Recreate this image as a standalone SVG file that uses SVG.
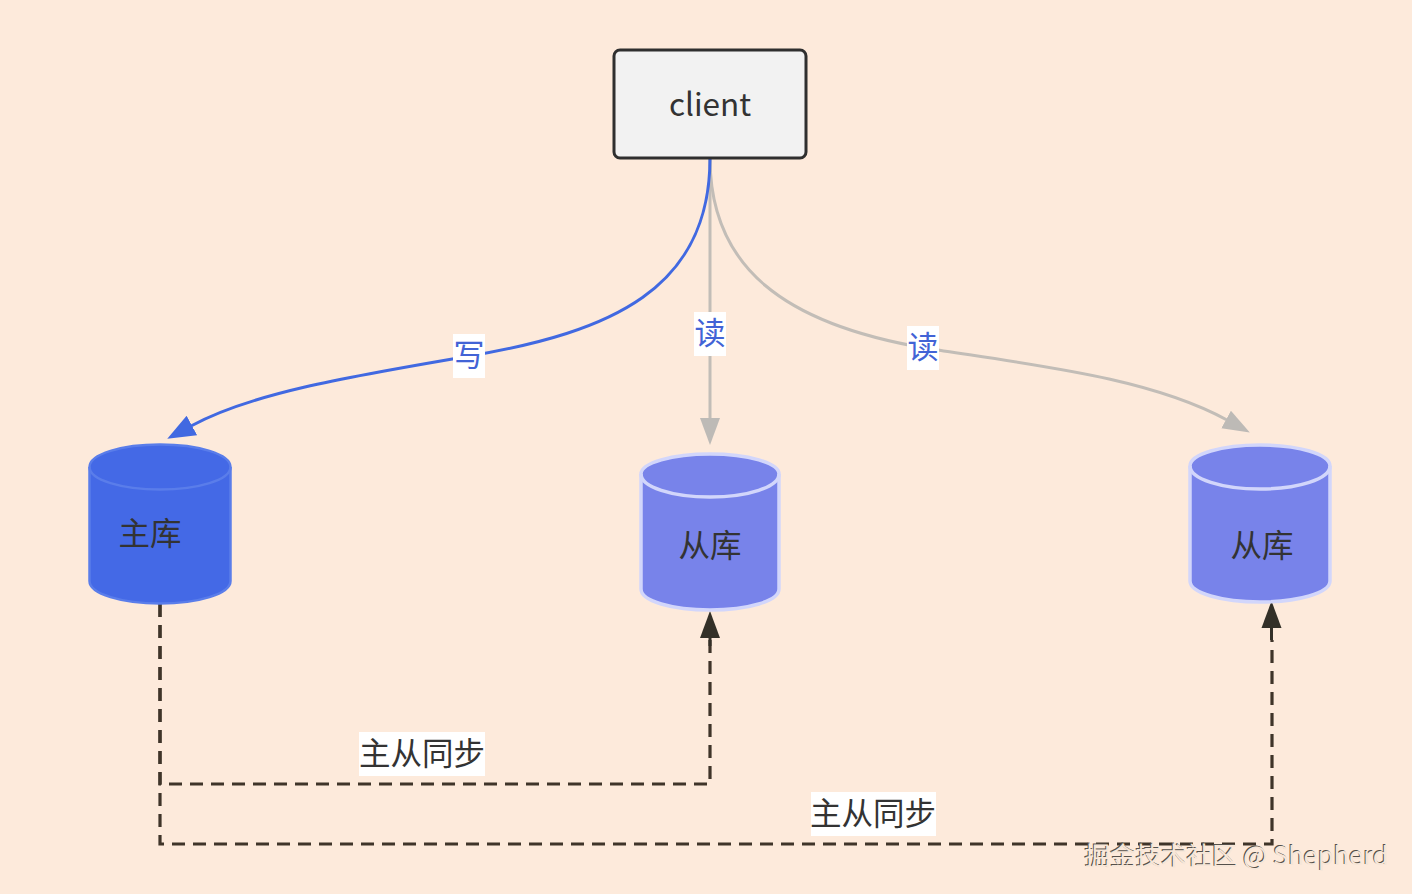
<svg xmlns="http://www.w3.org/2000/svg" width="1412" height="894" viewBox="0 0 1412 894">
<style>
text{font-family:"Noto Sans CJK SC","Noto Sans",sans-serif;text-anchor:middle}
.lbl{font-size:31.5px;fill:#333}
.el{font-size:31px;fill:#4263d6}
.bg{fill:#fff}
.dash{fill:none;stroke:#3f3429;stroke-width:3.2;stroke-dasharray:13 8}
.blue{fill:none;stroke:#4169e1;stroke-width:3}
.grey{fill:none;stroke:#c2bdb7;stroke-width:3}
.m{fill:#4469e6;stroke:#5a7dea;stroke-width:2.500}
.s{fill:#7883ea;stroke:#d2d6fb;stroke-width:3.500}
.wm{font-size:25.500px}
</style>
<defs>
<marker id="aB" markerUnits="userSpaceOnUse" markerWidth="32" markerHeight="26" refX="1" refY="12" orient="auto"><path d="M0 1L28 12L0 23Z" fill="#4169e1"/></marker>
<marker id="aG" markerUnits="userSpaceOnUse" markerWidth="32" markerHeight="26" refX="1" refY="12" orient="auto"><path d="M0 2L27 12L0 22Z" fill="#bdbab6"/></marker>
<marker id="aD" markerUnits="userSpaceOnUse" markerWidth="32" markerHeight="26" refX="1" refY="12" orient="auto"><path d="M0 2L27 12L0 22Z" fill="#333028"/></marker>
</defs>
<rect width="1412" height="894" fill="#fdeadb"/>
<g id="connectors">
<path class="grey" marker-end="url(#aG)" d="M710 158C710 268 785 324 925 348C1040 366 1150 378 1227 420"/>
<path class="grey" marker-end="url(#aG)" d="M710 158V419"/>
<path class="blue" marker-end="url(#aB)" d="M710 158C710 290 610 332 470 356C340 378 250 394 191 426"/>
<path class="dash" d="M160 604V784H710V640"/>
<path d="M710 646V637" fill="none" stroke="#333028" stroke-width="3" marker-end="url(#aD)"/>
<path class="dash" d="M160 604V844H1272V640"/>
<path d="M1271.500 640V627" fill="none" stroke="#333028" stroke-width="3" marker-end="url(#aD)"/>
</g>
<g id="client">
<rect x="614" y="50" width="192" height="108" rx="6" fill="#f2f2f2" stroke="#2f2f2f" stroke-width="3"/>
<text class="lbl" x="710" y="116">client</text>
</g>
<g id="master">
<path class="m" d="M89.500 467C89.500 454 122 444.500 160 444.500C198 444.500 230.500 454 230.500 467V581C230.500 594 198 603.500 160 603.500C122 603.500 89.500 594 89.500 581Z"/>
<path class="m" style="fill:none" d="M89.500 467C89.500 480 122 489.500 160 489.500C198 489.500 230.500 480 230.500 467"/>
<text class="lbl" x="150" y="545">主库</text>
</g>
<g id="slave1">
<path class="s" d="M641 474C641 463 672 454 710 454C748 454 779 463 779 474V589C779 601 748 610 710 610C672 610 641 601 641 589Z"/>
<path class="s" style="fill:none" d="M641 474C641 487 672 497 710 497C748 497 779 487 779 474"/>
<text class="lbl" x="710" y="557">从库</text>
</g>
<g id="slave2">
<path class="s" d="M1190 466C1190 454 1222 445 1260 445C1298 445 1330 454 1330 466V581C1330 593 1298 602 1260 602C1222 602 1190 593 1190 581Z"/>
<path class="s" style="fill:none" d="M1190 466C1190 479 1222 489 1260 489C1298 489 1330 479 1330 466"/>
<text class="lbl" x="1262" y="557">从库</text>
</g>
<g id="edge-labels">
<rect class="bg" x="453" y="334" width="32" height="44"/><text class="el" x="469" y="366">写</text>
<rect class="bg" x="694" y="312" width="32" height="44"/><text class="el" x="710" y="344">读</text>
<rect class="bg" x="907" y="326" width="32" height="44"/><text class="el" x="923" y="358">读</text>
<rect class="bg" x="359" y="732" width="126" height="44"/><text class="lbl" x="422" y="765">主从同步</text>
<rect class="bg" x="811" y="792" width="125" height="44"/><text class="lbl" x="873" y="825">主从同步</text>
</g>
<g id="watermark">
<text class="wm" x="1235.500" y="863.500" fill="#55504a">掘金技术社区 @ Shepherd</text>
<text class="wm" x="1236.500" y="864.500" fill="#f6e6d8">掘金技术社区 @ Shepherd</text>
</g>
</svg>
